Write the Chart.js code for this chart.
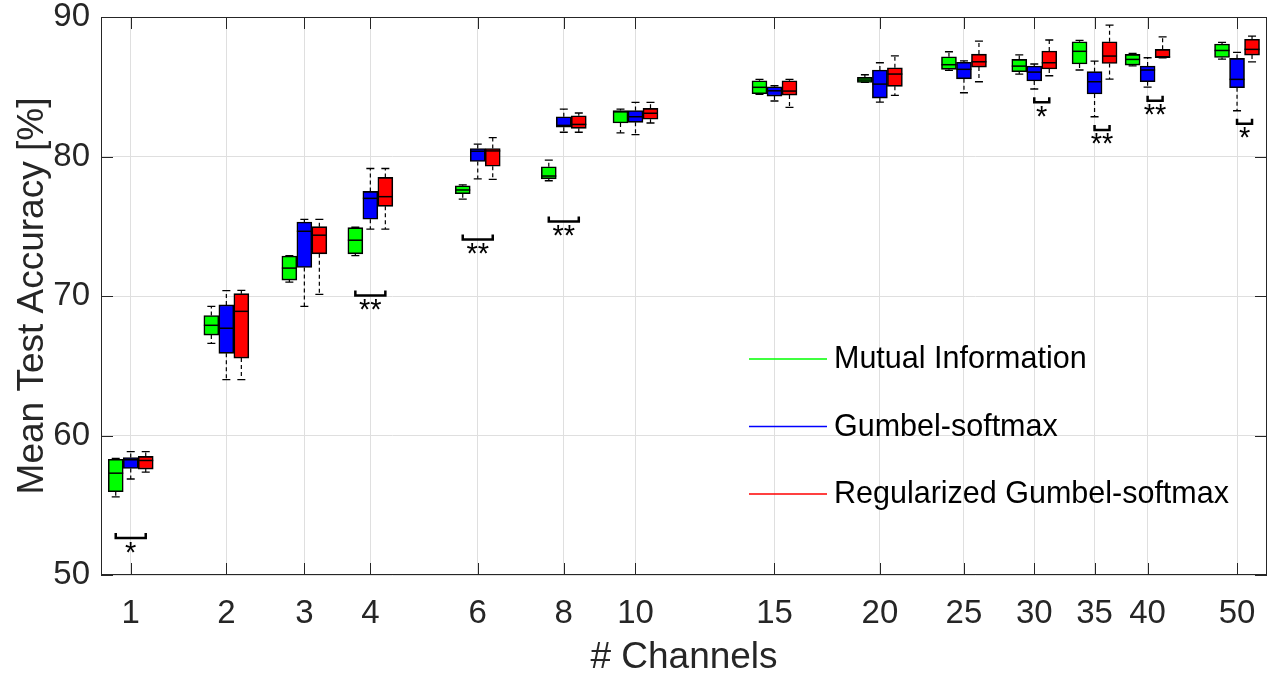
<!DOCTYPE html>
<html>
<head>
<meta charset="utf-8">
<script src="https://cdn.jsdelivr.net/npm/chart.js@4.4.0/dist/chart.umd.min.js"></script>
<style>
  html, body { margin: 0; padding: 0; background: #fff; }
  #wrap { width: 1275px; height: 673px; }
</style>
</head>
<body>
<div id="wrap"><canvas id="chart" width="1275" height="673"></canvas></div>
<script>
"use strict";

// channel counts and where each sits on the (non-uniform) x axis, 0..100
var channels = [1, 2, 3, 4, 6, 8, 10, 15, 20, 25, 30, 35, 40, 50];
var channelPos = [2.55, 10.75, 17.44, 23.10, 32.31, 39.69, 45.84, 57.76, 66.80, 74.01, 80.04, 85.21, 89.76, 97.43];
var yTicks = [50, 60, 70, 80, 90];

// Mutual Information
var miMin = [55.6, 66.6, 71.0, 72.9, 76.95, 78.26, 81.7, 84.46, 85.31, 86.17, 85.91, 86.2, 86.5, 86.98];
var miQ1  = [55.97, 67.2, 71.14, 73.02, 77.33, 78.4, 82.4, 84.5, 85.31, 86.25, 86.08, 86.63, 86.55, 87.1];
var miMed = [57.3, 67.9, 72.0, 74.0, 77.6, 78.6, 83.2, 84.96, 85.48, 86.58, 86.48, 87.54, 86.96, 87.6];
var miQ3  = [58.3, 68.6, 72.86, 74.9, 77.9, 79.26, 83.3, 85.43, 85.67, 87.15, 86.96, 88.22, 87.32, 88.06];
var miMax = [58.35, 69.26, 72.9, 74.93, 77.97, 79.74, 83.4, 85.53, 85.86, 87.51, 87.29, 88.32, 87.39, 88.18];

// Gumbel-softmax
var gsMin = [56.88, 64.0, 69.26, 74.8, 78.4, 81.74, 81.57, 83.98, 83.9, 84.57, 84.84, 82.85, 84.98, 83.28];
var gsQ1  = [57.64, 65.89, 72.04, 75.5, 79.64, 82.1, 82.45, 84.33, 84.19, 85.57, 85.41, 84.48, 85.36, 84.93];
var gsMed = [58.26, 67.69, 74.64, 77.0, 80.38, 82.23, 82.85, 84.71, 85.19, 86.25, 86.05, 85.36, 86.2, 85.53];
var gsQ3  = [58.42, 69.36, 75.3, 77.5, 80.57, 82.85, 83.3, 85.0, 86.2, 86.75, 86.48, 86.08, 86.48, 87.03];
var gsMax = [58.85, 70.38, 75.5, 79.14, 80.88, 83.4, 83.88, 85.07, 86.72, 86.86, 86.63, 86.84, 87.08, 87.46];

// Regularized Gumbel-softmax
var rgMin = [57.38, 64.0, 70.12, 74.8, 78.36, 81.74, 82.4, 83.52, 84.38, 85.36, 85.79, 85.55, 87.08, 86.79];
var rgQ1  = [57.59, 65.55, 73.02, 76.43, 79.3, 82.02, 82.67, 84.4, 85.03, 86.41, 86.27, 86.67, 87.08, 87.27];
var rgMed = [58.21, 68.9, 74.36, 77.12, 80.4, 82.3, 83.1, 84.69, 85.91, 86.79, 86.72, 87.2, 87.15, 87.68];
var rgQ3  = [58.5, 70.17, 74.97, 78.5, 80.57, 82.92, 83.45, 85.43, 86.36, 87.34, 87.56, 88.22, 87.68, 88.4];
var rgMax = [58.85, 70.4, 75.5, 79.14, 81.36, 83.12, 83.88, 85.53, 87.22, 88.27, 88.35, 89.42, 88.58, 88.63];

// significance brackets: group index, first/last series joined, level, stars
var sigGroup = [0, 3, 4, 5, 10, 11, 12, 13];
var sigFrom  = [0, 0, 0, 0, 1, 1, 1, 1];
var sigTo    = [2, 2, 2, 2, 2, 2, 2, 2];
var sigLevel = [52.58, 69.96, 73.97, 75.26, 83.81, 81.83, 83.93, 82.27];
var sigText  = ['*', '**', '**', '**', '*', '**', '**', '*'];

var series = [
  { label: 'Mutual Information', color: '#00ff00', min: miMin, q1: miQ1, med: miMed, q3: miQ3, max: miMax },
  { label: 'Gumbel-softmax', color: '#0000ff', min: gsMin, q1: gsQ1, med: gsMed, q3: gsQ3, max: gsMax },
  { label: 'Regularized Gumbel-softmax', color: '#ff0000', min: rgMin, q1: rgQ1, med: rgMed, q3: rgQ3, max: rgMax }
];

var FONT = "'Liberation Sans', Arial, Helvetica, sans-serif";
var AXIS = '#262626';

// whiskers, medians and the significance brackets
var boxExtras = {
  id: 'boxExtras',
  afterDatasetsDraw: function (chart) {
    var ctx = chart.ctx, y = chart.scales.y;
    ctx.save();
    series.forEach(function (s, i) {
      var meta = chart.getDatasetMeta(i);
      meta.data.forEach(function (bar, j) {
        var cx = bar.x, hw = bar.width / 2;
        var pMin = y.getPixelForValue(s.min[j]), pQ1 = y.getPixelForValue(s.q1[j]);
        var pQ3 = y.getPixelForValue(s.q3[j]), pMax = y.getPixelForValue(s.max[j]);
        var pMed = y.getPixelForValue(s.med[j]);
        ctx.strokeStyle = '#000';
        ctx.lineWidth = 1.2;
        ctx.setLineDash([4, 3]);
        ctx.beginPath();
        ctx.moveTo(cx, pQ3); ctx.lineTo(cx, pMax);
        ctx.moveTo(cx, pQ1); ctx.lineTo(cx, pMin);
        ctx.stroke();
        ctx.setLineDash([]);
        ctx.lineWidth = 1.3;
        ctx.beginPath();
        ctx.moveTo(cx - 4, pMax); ctx.lineTo(cx + 4, pMax);
        ctx.moveTo(cx - 4, pMin); ctx.lineTo(cx + 4, pMin);
        ctx.stroke();
        ctx.lineWidth = 1.5;
        ctx.beginPath();
        ctx.moveTo(cx - hw, pMed); ctx.lineTo(cx + hw, pMed);
        ctx.stroke();
      });
    });

    ctx.strokeStyle = '#000';
    ctx.fillStyle = '#000';
    ctx.lineWidth = 2.5;
    ctx.font = '29px ' + FONT;
    ctx.textAlign = 'center';
    ctx.textBaseline = 'top';
    sigGroup.forEach(function (g, k) {
      var xa = chart.getDatasetMeta(sigFrom[k]).data[g].x;
      var xb = chart.getDatasetMeta(sigTo[k]).data[g].x;
      var yb = y.getPixelForValue(sigLevel[k]);
      ctx.beginPath();
      ctx.moveTo(xa, yb - 6);
      ctx.lineTo(xa, yb - 1);
      ctx.lineTo(xb, yb - 1);
      ctx.lineTo(xb, yb - 6);
      ctx.stroke();
      ctx.fillText(sigText[k], (xa + xb) / 2, yb);
    });
    ctx.restore();
  }
};

// box outline, inward tick marks, legend
var frame = {
  id: 'frame',
  afterDraw: function (chart) {
    var ctx = chart.ctx, a = chart.chartArea;
    var x = chart.scales.x, y = chart.scales.y;
    ctx.save();
    ctx.strokeStyle = AXIS;
    ctx.lineWidth = 1;
    ctx.strokeRect(a.left + 0.5, a.top + 0.5, a.right - a.left - 1, a.bottom - a.top - 1);
    ctx.beginPath();
    channelPos.forEach(function (v) {
      var px = Math.round(x.getPixelForValue(v)) + 0.5;
      ctx.moveTo(px, a.bottom); ctx.lineTo(px, a.bottom - 12);
      ctx.moveTo(px, a.top); ctx.lineTo(px, a.top + 12);
    });
    yTicks.forEach(function (v) {
      var py = Math.round(y.getPixelForValue(v)) + 0.5;
      ctx.moveTo(a.left, py); ctx.lineTo(a.left + 12, py);
      ctx.moveTo(a.right, py); ctx.lineTo(a.right - 12, py);
    });
    ctx.stroke();

    ctx.font = '30.5px ' + FONT;
    ctx.textAlign = 'left';
    ctx.textBaseline = 'middle';
    series.forEach(function (s, i) {
      var ly = 359 + i * 67.5;
      ctx.strokeStyle = s.color;
      ctx.lineWidth = 1.5;
      ctx.beginPath();
      ctx.moveTo(749, ly); ctx.lineTo(827, ly);
      ctx.stroke();
      ctx.fillStyle = '#000';
      ctx.fillText(s.label, 834, ly + 1);
    });
    ctx.restore();
  }
};

var ctx = document.getElementById('chart').getContext('2d');
var myChart = new Chart(ctx, {
  type: 'bar',
  data: {
    datasets: series.map(function (s) {
      return {
        label: s.label,
        data: channelPos.map(function (p, i) { return { x: p, y: [s.q1[i], s.q3[i]] }; }),
        backgroundColor: s.color,
        borderColor: '#000',
        borderWidth: 1.6,
        borderSkipped: false,
        barThickness: 15
      };
    })
  },
  options: {
    responsive: false,
    devicePixelRatio: 1,
    animation: false,
    layout: { padding: { top: 17, right: 8, left: 0, bottom: 0 } },
    plugins: {
      legend: { display: false },
      tooltip: { enabled: false }
    },
    scales: {
      x: {
        type: 'linear',
        min: 0,
        max: 100,
        offset: false,
        afterBuildTicks: function (scale) {
          scale.ticks = channelPos.map(function (v) { return { value: v }; });
        },
        afterFit: function (scale) {
          scale.height = 98;
          scale.paddingLeft = 0;
          scale.paddingRight = 0;
        },
        ticks: {
          autoSkip: false,
          maxRotation: 0,
          padding: 19,
          color: AXIS,
          font: { family: FONT, size: 33 },
          callback: function (value, index) { return String(channels[index]); }
        },
        grid: { color: '#dfdfdf', drawTicks: false, offset: false },
        border: { display: false },
        title: {
          display: true,
          text: '# Channels',
          color: AXIS,
          font: { family: FONT, size: 37, lineHeight: 0.8 },
          padding: { top: 0, bottom: 0 }
        }
      },
      y: {
        min: 50,
        max: 90,
        afterBuildTicks: function (scale) {
          scale.ticks = yTicks.map(function (v) { return { value: v }; });
        },
        afterFit: function (scale) {
          scale.width = 101;
          scale.paddingTop = 0;
          scale.paddingBottom = 0;
        },
        ticks: {
          padding: 11,
          color: AXIS,
          font: { family: FONT, size: 33 }
        },
        grid: { color: '#dfdfdf', drawTicks: false },
        border: { display: false },
        title: {
          display: true,
          text: 'Mean Test Accuracy [%]',
          color: AXIS,
          font: { family: FONT, size: 37, lineHeight: 1 },
          padding: { top: 14, bottom: 0 }
        }
      }
    }
  },
  plugins: [boxExtras, frame]
});
</script>
</body>
</html>
